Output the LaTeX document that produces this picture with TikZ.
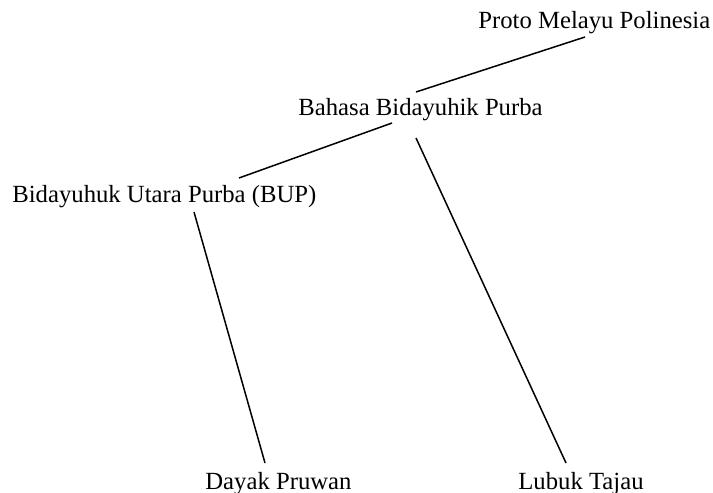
\documentclass[tikz,border=0pt]{standalone}
\usepackage{fontspec}
\setmainfont{Liberation Serif}
\begin{document}
\begin{tikzpicture}[x=0.5pt,y=-0.5pt]
	\tikzstyle{every node}+=[inner sep=0pt,anchor=base west,font=\fontsize{12.35}{14}\selectfont]
	\tikzstyle{branch}=[black,line width=0.75pt]
	\useasboundingbox (0,0) rectangle (713,493);
	\node (pmp) at (478,28) {Proto Melayu Polinesia};
	\node (bbp) at (298,115) {Bahasa Bidayuhik Purba};
	\node (bup) at (12,202) {Bidayuhuk Utara Purba (BUP)};
	\node (dpr) at (205,489) {Dayak Pruwan};
	\node (ltj) at (518,489) {Lubuk Tajau};
	\draw [branch] ([shift={(107,9)}]pmp.base west) -- ([shift={(118,-23)}]bbp.base west);
	\draw [branch] ([shift={(94,8)}]bbp.base west) -- ([shift={(227,-24)}]bup.base west);
	\draw [branch] ([shift={(118,23)}]bbp.base west) -- ([shift={(48,-26)}]ltj.base west);
	\draw [branch] ([shift={(182,10)}]bup.base west) -- ([shift={(60,-26)}]dpr.base west);
\end{tikzpicture}
\end{document}
